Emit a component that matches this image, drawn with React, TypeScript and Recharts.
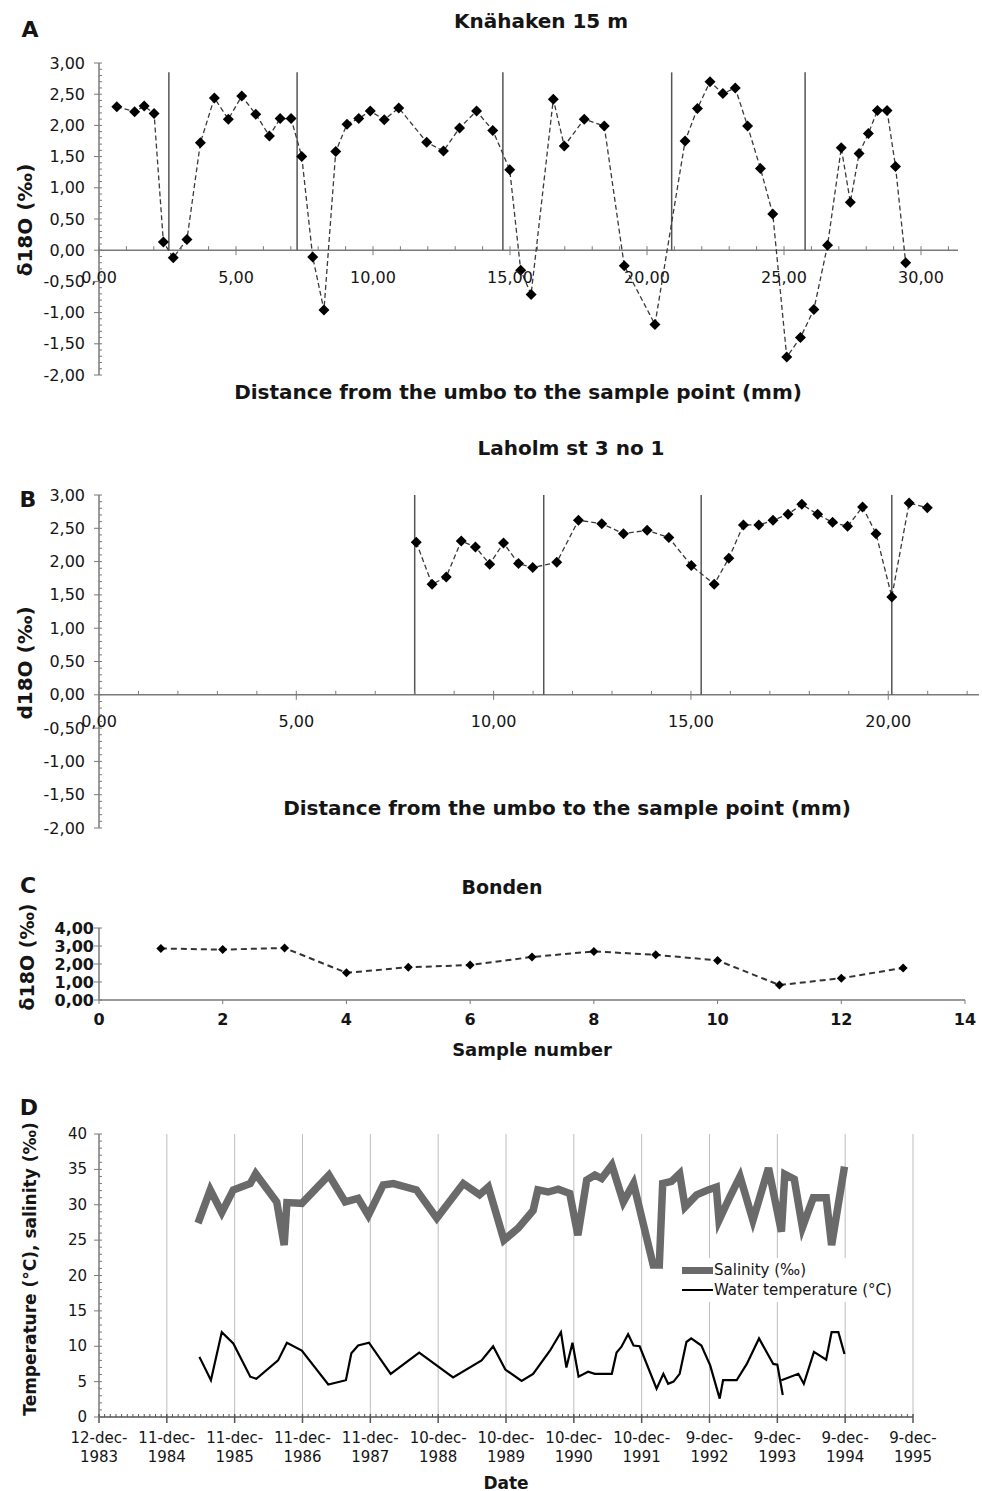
import React from "react";
import { LineChart, Line, XAxis, YAxis, ReferenceLine, Legend } from "recharts";

const FONT = "'DejaVu Sans', Verdana, sans-serif";
const INK = "#151515";
const AXIS = "#7a7a7a";

// A: Knähaken 15 m
const knahakenDistance = [
  0.65, 1.3, 1.65, 2.01, 2.35, 2.71, 3.21, 3.7, 4.21, 4.72, 5.21, 5.72, 6.22, 6.61, 7.01, 7.4, 7.8, 8.21, 8.64,
  9.05, 9.48, 9.9, 10.41, 10.94, 11.96, 12.57, 13.16, 13.78, 14.37, 14.99, 15.39, 15.77, 16.58, 16.98, 17.71,
  18.44, 19.17, 20.29, 21.39, 21.84, 22.3, 22.77, 23.22, 23.67, 24.14, 24.59, 25.1, 25.6, 26.09, 26.59, 27.09,
  27.42, 27.74, 28.08, 28.41, 28.76, 29.07, 29.44,
];
const knahakenD18O = [
  2.3, 2.22, 2.31, 2.19, 0.13, -0.12, 0.17, 1.72, 2.44, 2.1, 2.47, 2.18, 1.83, 2.11, 2.11, 1.5, -0.11, -0.96, 1.58,
  2.02, 2.11, 2.23, 2.09, 2.28, 1.73, 1.59, 1.96, 2.23, 1.92, 1.29, -0.32, -0.71, 2.42, 1.67, 2.1, 1.99, -0.25,
  -1.19, 1.75, 2.27, 2.7, 2.51, 2.6, 1.99, 1.31, 0.58, -1.71, -1.4, -0.95, 0.08, 1.64, 0.77, 1.55, 1.87, 2.24,
  2.24, 1.34, -0.2,
];
const knahakenYearMarks = [2.55, 7.23, 14.74, 20.9, 25.77];
const knahakenMarkTop = 2.85;

// B: Laholm st 3 no 1
const laholmDistance = [
  8.04, 8.44, 8.8, 9.18, 9.54, 9.9, 10.25, 10.63, 10.99, 11.6, 12.15, 12.74, 13.29, 13.89, 14.44, 15.01, 15.59,
  15.96, 16.33, 16.72, 17.08, 17.46, 17.81, 18.21, 18.59, 18.97, 19.35, 19.69, 20.09, 20.53, 20.99,
];
const laholmD18O = [
  2.29, 1.66, 1.77, 2.31, 2.22, 1.96, 2.28, 1.97, 1.91, 1.99, 2.62, 2.57, 2.42, 2.47, 2.36, 1.94, 1.66, 2.05,
  2.55, 2.55, 2.62, 2.71, 2.86, 2.71, 2.59, 2.53, 2.82, 2.42, 1.47, 2.88, 2.81,
];
const laholmYearMarks = [8.0, 11.27, 15.26, 20.09];
const laholmMarkTop = 3.0;

// C: Bonden
const bondenSample = [1, 2, 3, 4, 5, 6, 7, 8, 9, 10, 11, 12, 13];
const bondenD18O = [2.86, 2.8, 2.89, 1.51, 1.82, 1.94, 2.39, 2.7, 2.51, 2.2, 0.83, 1.21, 1.78];

// D: salinity and water temperature, time in years after 12-dec-1983
const salinityTime = [
  1.46, 1.64, 1.81, 1.98, 2.23, 2.31, 2.62, 2.73, 2.77, 2.99, 3.39, 3.63, 3.82, 3.97, 4.19, 4.34, 4.68, 4.98,
  5.37, 5.61, 5.74, 5.97, 6.18, 6.4, 6.47, 6.62, 6.77, 6.94, 7.06, 7.19, 7.31, 7.41, 7.56, 7.73, 7.88, 8.17,
  8.26, 8.31, 8.44, 8.56, 8.64, 8.81, 8.98, 9.1, 9.14, 9.3, 9.45, 9.64, 9.87, 10.06, 10.11, 10.25, 10.37,
  10.53, 10.72, 10.8, 10.99,
];
const salinityValue = [
  27.4, 32.1, 28.9, 32.1, 33.0, 34.4, 30.4, 24.3, 30.3, 30.2, 34.2, 30.4, 30.9, 28.5, 32.8, 33.0, 32.1, 28.1,
  33.0, 31.4, 32.5, 25.0, 26.7, 29.2, 32.1, 31.8, 32.2, 31.6, 25.7, 33.5, 34.2, 33.7, 35.6, 30.4, 33.0, 21.5,
  21.5, 33.0, 33.3, 34.4, 29.7, 31.4, 32.1, 32.5, 27.8, 31.1, 34.0, 27.8, 35.2, 26.2, 34.3, 33.6, 26.8, 31.0,
  31.0, 24.3, 35.4,
];
const temperatureTime = [
  1.48, 1.65, 1.81, 1.98, 2.23, 2.32, 2.64, 2.77, 2.99, 3.38, 3.64, 3.72, 3.82, 3.98, 4.3, 4.72, 5.22, 5.64,
  5.81, 5.99, 6.23, 6.4, 6.65, 6.81, 6.89, 6.98, 7.07, 7.21, 7.31, 7.56, 7.63, 7.7, 7.8, 7.88, 7.97, 8.22,
  8.32, 8.39, 8.47, 8.56, 8.66, 8.73, 8.88, 9.01, 9.15, 9.2, 9.4, 9.55, 9.73, 9.94, 10.0, 10.08, 10.07, 10.06,
  10.31, 10.39, 10.54, 10.72, 10.8, 10.9, 10.99,
];
const temperatureValue = [
  8.5, 5.2, 12.0, 10.4, 5.7, 5.4, 8.0, 10.5, 9.4, 4.6, 5.2, 9.0, 10.1, 10.5, 6.1, 9.1, 5.6, 8.0, 10.0, 6.7, 5.1,
  6.1, 9.4, 12.0, 7.0, 10.5, 5.7, 6.4, 6.1, 6.1, 9.1, 9.9, 11.7, 10.1, 10.0, 4.0, 6.1, 4.7, 5.0, 6.1, 10.6, 11.1,
  10.1, 7.3, 2.6, 5.2, 5.2, 7.5, 11.1, 7.5, 7.4, 3.1, null, 5.2, 6.1, 4.7, 9.2, 8.1, 12.0, 12.0, 8.9,
];
const dateLabels = [
  "12-dec-1983", "11-dec-1984", "11-dec-1985", "11-dec-1986", "11-dec-1987", "10-dec-1988", "10-dec-1989",
  "10-dec-1990", "10-dec-1991", "9-dec-1992", "9-dec-1993", "9-dec-1994", "9-dec-1995",
];
const legendItems = [
  { name: "Salinity (‰)", color: "#6a6a6a", width: 7 },
  { name: "Water temperature (°C)", color: "#000", width: 2 },
];

const range = (a: number, b: number, step: number) =>
  Array.from({ length: Math.round((b - a) / step) + 1 }, (_, i) => +(a + i * step).toFixed(6));
const onStep = (v: number, step: number) => Math.abs(v / step - Math.round(v / step)) < 1e-6;
const comma2 = (v: number) => v.toFixed(2).replace(".", ",").replace("-0,00", "0,00");

const diamond = (r: number) => (p: any) => {
  const { cx, cy, index } = p;
  if (cx == null || cy == null) return <g key={`n${index}`} />;
  return (
    <path key={`d${index}`} d={`M${cx},${cy - r}L${cx + r},${cy}L${cx},${cy + r}L${cx - r},${cy}Z`} fill="#000" />
  );
};

const yTick =
  (major: number, fmt: (v: number) => string, size: number, gap: number, bold = false, minor = true) =>
  (p: any) => {
    const { x, y, payload } = p;
    const v = payload.value;
    const isMajor = onStep(v, major);
    if (!isMajor && !minor) return <g />;
    return (
      <g>
        <line x1={isMajor ? x - 5 : x} x2={x + 3} y1={y} y2={y} stroke={AXIS} />
        {isMajor && (
          <text x={x - gap} y={y} textAnchor="end" dominantBaseline="central" fontSize={size}
            fontWeight={bold ? 700 : 400} fontFamily={FONT} fill={INK}>
            {fmt(v)}
          </text>
        )}
      </g>
    );
  };

// x ticks drawn on the zero line, which sits `shift` px above the plot bottom
const zeroXTick = (shift: number) => (p: any) => {
  const { x, y, payload } = p;
  const zy = y - shift;
  const v = payload.value;
  const isMajor = onStep(v, 5);
  return (
    <g>
      <line x1={x} x2={x} y1={zy - 4} y2={isMajor ? zy + 5 : zy} stroke={AXIS} />
      {isMajor && (
        <text x={x} y={zy + 27} textAnchor="middle" dominantBaseline="central" fontSize={16} fontFamily={FONT} fill={INK}>
          {comma2(v)}
        </text>
      )}
    </g>
  );
};

function Txt({ x, y, size, bold = true, rotate = false, children }: any) {
  return (
    <div
      style={{
        position: "absolute", left: x, top: y, fontSize: size, fontWeight: bold ? 700 : 400, lineHeight: 1,
        whiteSpace: "nowrap", transform: `translate(-50%, -50%)${rotate ? " rotate(-90deg)" : ""}`,
      }}
    >
      {children}
    </div>
  );
}

const aRows = knahakenDistance.map((x, i) => ({ x, y: knahakenD18O[i] }));
const bRows = laholmDistance.map((x, i) => ({ x, y: laholmD18O[i] }));
const cRows = bondenSample.map((x, i) => ({ x, y: bondenD18O[i] }));
const salinityRows = salinityTime.map((t, i) => ({ t, v: salinityValue[i] }));
const temperatureRows = temperatureTime.map((t, i) => ({ t, v: temperatureValue[i] }));

function PanelA() {
  const plotH = 312;
  return (
    <div style={{ position: "absolute", left: 0, top: 0 }}>
      <LineChart width={982} height={400} data={aRows} margin={{ top: 63, right: 24, bottom: 5, left: 0 }}>
        <XAxis type="number" dataKey="x" domain={[0, 31.35]} ticks={range(0, 31, 1)} interval={0} height={20}
          axisLine={false} tickLine={false} tickSize={0} tickMargin={0} tick={zeroXTick((plotH * 2) / 5)} allowDataOverflow />
        <YAxis type="number" domain={[-2, 3]} ticks={range(-2, 3, 0.1)} interval={0} width={99}
          axisLine={{ stroke: AXIS, strokeWidth: 1.5 }} tickLine={false} tickSize={0} tickMargin={0}
          tick={yTick(0.5, comma2, 16, 14)} allowDataOverflow />
        <ReferenceLine y={0} stroke={AXIS} strokeWidth={1.5} />
        {knahakenYearMarks.map((m) => (
          <ReferenceLine key={m} segment={[{ x: m, y: 0 }, { x: m, y: knahakenMarkTop }]} stroke="#555" strokeWidth={1.5} />
        ))}
        <Line dataKey="y" stroke="#3a3a3a" strokeWidth={1.3} strokeDasharray="5 3" dot={diamond(5.5)}
          activeDot={false} isAnimationActive={false} />
      </LineChart>
    </div>
  );
}

function PanelB() {
  const plotH = 333;
  return (
    <div style={{ position: "absolute", left: 0, top: 430 }}>
      <LineChart width={982} height={420} data={bRows} margin={{ top: 65, right: 3, bottom: 2, left: 0 }}>
        <XAxis type="number" dataKey="x" domain={[0, 22.3]} ticks={range(0, 22, 1)} interval={0} height={20}
          axisLine={false} tickLine={false} tickSize={0} tickMargin={0} tick={zeroXTick((plotH * 2) / 5)} allowDataOverflow />
        <YAxis type="number" domain={[-2, 3]} ticks={range(-2, 3, 0.1)} interval={0} width={99}
          axisLine={{ stroke: AXIS, strokeWidth: 1.5 }} tickLine={false} tickSize={0} tickMargin={0}
          tick={yTick(0.5, comma2, 16, 14)} allowDataOverflow />
        <ReferenceLine y={0} stroke={AXIS} strokeWidth={1.5} />
        {laholmYearMarks.map((m) => (
          <ReferenceLine key={m} segment={[{ x: m, y: 0 }, { x: m, y: laholmMarkTop }]} stroke="#555" strokeWidth={1.5} />
        ))}
        <Line dataKey="y" stroke="#3a3a3a" strokeWidth={1.3} strokeDasharray="5 3" dot={diamond(5.5)}
          activeDot={false} isAnimationActive={false} />
      </LineChart>
    </div>
  );
}

const cXTick = (p: any) => {
  const { x, y, payload } = p;
  return (
    <g>
      <line x1={x} x2={x} y1={y} y2={y + 4} stroke={AXIS} />
      <text x={x} y={y + 19} textAnchor="middle" dominantBaseline="central" fontSize={16} fontWeight={700}
        fontFamily={FONT} fill={INK}>
        {payload.value}
      </text>
    </g>
  );
};

function PanelC() {
  return (
    <div style={{ position: "absolute", left: 0, top: 850 }}>
      <LineChart width={982} height={200} data={cRows} margin={{ top: 78, right: 17, bottom: 19, left: 0 }}>
        <XAxis type="number" dataKey="x" domain={[0, 14]} ticks={range(0, 14, 2)} interval={0} height={31}
          axisLine={{ stroke: AXIS, strokeWidth: 1.5 }} tickLine={false} tickSize={0} tickMargin={0} tick={cXTick} />
        <YAxis type="number" domain={[0, 4]} ticks={range(0, 4, 1)} interval={0} width={99}
          axisLine={{ stroke: AXIS, strokeWidth: 1.5 }} tickLine={false} tickSize={0} tickMargin={0}
          tick={yTick(1, comma2, 16, 5, true, false)} />
        <Line dataKey="y" stroke="#333" strokeWidth={2} strokeDasharray="6 4" dot={diamond(4.5)}
          activeDot={false} isAnimationActive={false} />
      </LineChart>
    </div>
  );
}

const dXTick = (p: any) => {
  const { x, y, payload } = p;
  const v = payload.value;
  if (!onStep(v, 1)) return <line x1={x} x2={x} y1={y - 3} y2={y} stroke="#555" />;
  const label = dateLabels[Math.round(v)];
  const cut = label.lastIndexOf("-") + 1;
  return (
    <g>
      <line x1={x} x2={x} y1={y - 3} y2={y + 6} stroke="#555" strokeWidth={1.5} />
      <text x={x} y={y + 21} textAnchor="middle" dominantBaseline="central" fontSize={15} fontFamily={FONT} fill={INK}>
        {label.slice(0, cut)}
      </text>
      <text x={x} y={y + 40} textAnchor="middle" dominantBaseline="central" fontSize={15} fontFamily={FONT} fill={INK}>
        {label.slice(cut)}
      </text>
    </g>
  );
};

function PanelD() {
  return (
    <div style={{ position: "absolute", left: 0, top: 1100 }}>
      <LineChart width={982} height={391} margin={{ top: 34, right: 69, bottom: 14, left: 0 }}>
        <XAxis type="number" dataKey="t" domain={[0, 12]} ticks={range(0, 12, 1 / 12)} interval={0} height={60}
          axisLine={{ stroke: "#555", strokeWidth: 1.5 }} tickLine={false} tickSize={0} tickMargin={0} tick={dXTick} />
        <YAxis type="number" domain={[0, 40]} ticks={range(0, 40, 1)} interval={0} width={99}
          axisLine={{ stroke: AXIS, strokeWidth: 1.5 }} tickLine={false} tickSize={0} tickMargin={0}
          tick={yTick(5, (v) => String(v), 15, 12)} />
        {range(1, 12, 1).map((yr) => (
          <ReferenceLine key={yr} x={yr} stroke="#bdbdbd" strokeWidth={1} />
        ))}
        <Line data={salinityRows} dataKey="v" name={legendItems[0].name} stroke={legendItems[0].color}
          strokeWidth={7.5} strokeLinejoin="miter" dot={false} activeDot={false} isAnimationActive={false} />
        <Line data={temperatureRows} dataKey="v" name={legendItems[1].name} stroke={legendItems[1].color}
          strokeWidth={2.2} strokeLinejoin="miter" dot={false} activeDot={false} connectNulls={false}
          isAnimationActive={false} />
        <Legend layout="vertical" align="center" verticalAlign="middle"
          wrapperStyle={{ left: 678, top: 158, width: 226, background: "#fff", padding: "2px 0" }}
          content={() => (
            <div>
              {legendItems.map((it) => (
                <div key={it.name} style={{ display: "flex", alignItems: "center", height: 20, fontSize: 15,
                  fontFamily: FONT, color: INK, whiteSpace: "nowrap" }}>
                  <span style={{ display: "inline-block", width: 31, height: it.width, background: it.color, marginLeft: 4, marginRight: 1 }} />
                  {it.name}
                </div>
              ))}
            </div>
          )}
        />
      </LineChart>
    </div>
  );
}

export default function App() {
  return (
    <div style={{ position: "absolute", left: 0, top: 0, width: 982, height: 1491, background: "#fff",
      fontFamily: FONT, color: INK, overflow: "hidden" }}>
      <PanelA />
      <PanelB />
      <PanelC />
      <PanelD />

      <Txt x={30} y={30} size={22}>A</Txt>
      <Txt x={541} y={21} size={20}>Knähaken 15 m</Txt>
      <Txt x={25} y={220} size={20} rotate>δ18O (‰)</Txt>
      <Txt x={518} y={392} size={20}>Distance from the umbo to the sample point (mm)</Txt>

      <Txt x={28} y={500} size={22}>B</Txt>
      <Txt x={571} y={448} size={20}>Laholm st 3 no 1</Txt>
      <Txt x={25} y={663} size={20} rotate>d18O (‰)</Txt>
      <Txt x={567} y={808} size={20}>Distance from the umbo to the sample point (mm)</Txt>

      <Txt x={28} y={886} size={22}>C</Txt>
      <Txt x={502} y={887} size={19}>Bonden</Txt>
      <Txt x={27} y={957} size={19} rotate>δ18O (‰)</Txt>
      <Txt x={532} y={1050} size={18}>Sample number</Txt>

      <Txt x={29} y={1108} size={22}>D</Txt>
      <Txt x={30} y={1269} size={17} rotate>Temperature (°C), salinity (‰)</Txt>
      <Txt x={506} y={1483} size={17}>Date</Txt>
    </div>
  );
}
